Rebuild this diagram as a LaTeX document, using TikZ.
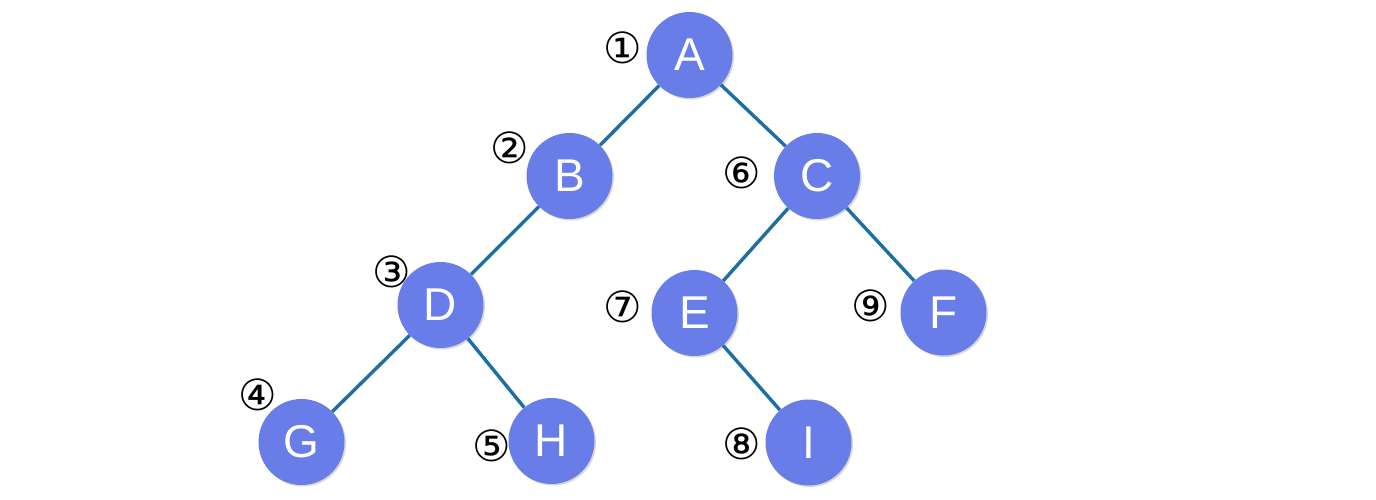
\documentclass[tikz,border=0pt]{standalone}
\usepackage{fontspec}
\setmainfont{Liberation Sans}
\newfontfamily\symfont{DejaVu Sans}
\usetikzlibrary{shadows}
\definecolor{nodeblue}{RGB}{104,125,232}
\definecolor{edgeblue}{RGB}{28,110,165}
\tikzset{
  treenode/.style={circle, fill=nodeblue, minimum size=86pt, inner sep=0pt,
    text=white, font=\fontsize{46}{46}\selectfont,
    drop shadow={shadow xshift=1.5pt, shadow yshift=-1.5pt, opacity=0.25, fill=black!60}},
  edge/.style={draw=edgeblue, line width=3.4pt},
  order/.style={font=\symfont\fontsize{43}{43}\selectfont, inner sep=0pt}
}
\begin{document}
\begin{tikzpicture}[x=1pt,y=-1pt]
\useasboundingbox[fill=white] (0,0) rectangle (1376,500);
\node[treenode] (A) at (689.5,55) {A};
\node[treenode] (B) at (569.5,176) {B};
\node[treenode] (C) at (817,176) {C};
\node[treenode] (D) at (440.5,305) {D};
\node[treenode] (E) at (694.5,313) {E};
\node[treenode] (F) at (943.5,312.5) {F};
\node[treenode] (G) at (301.5,442) {G};
\node[treenode] (H) at (551.5,441) {H};
\node[treenode] (I) at (808.5,442.5) {I};
\node[order] (n1) at (623,48) {①};
\node[order] (n2) at (510,148) {②};
\node[order] (n3) at (392,272) {③};
\node[order] (n4) at (258,395) {④};
\node[order] (n5) at (492,446) {⑤};
\node[order] (n6) at (742,173) {⑥};
\node[order] (n7) at (623,307) {⑦};
\node[order] (n8) at (742,444) {⑧};
\node[order] (n9) at (871,306) {⑨};
\draw[edge] (A) -- (B);
\draw[edge] (A) -- (C);
\draw[edge] (B) -- (D);
\draw[edge] (C) -- (E);
\draw[edge] (C) -- (F);
\draw[edge] (D) -- (G);
\draw[edge] (D) -- (H);
\draw[edge] (E) -- (I);
\end{tikzpicture}
\end{document}
